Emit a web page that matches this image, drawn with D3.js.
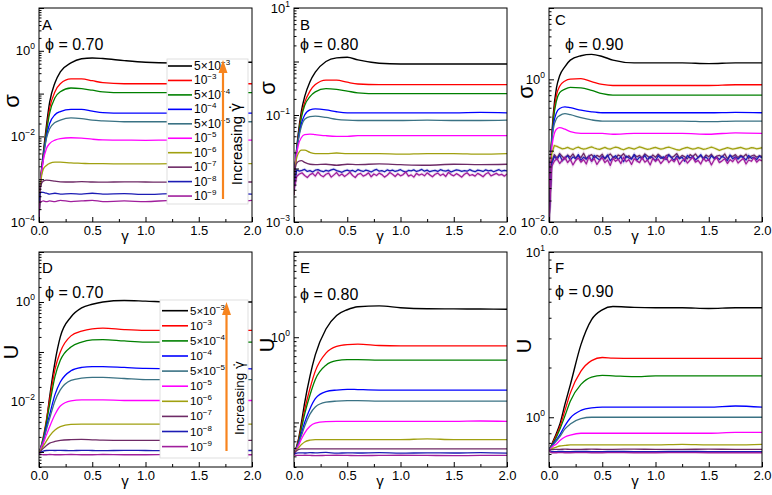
<!DOCTYPE html>
<html><head><meta charset="utf-8">
<script src="https://cdn.jsdelivr.net/npm/d3@7"></script>
<style>
body{margin:0;background:#fff}
svg{display:block}
text{font-family:"Liberation Sans",Arial,sans-serif;fill:#000}
</style>
</head><body>
<svg id="chart" width="772" height="495"></svg>
<script>
// ---------------- DATA ----------------
// smooth series are sampled on gammaGrid; noisy series are sampled evenly over gamma 0..2
const gammaGrid = [0, 0.005, 0.01, 0.02, 0.04, 0.07, 0.1, 0.15, 0.2, 0.3, 0.4, 0.5, 0.6, 0.8, 1.0, 1.25, 1.5, 1.75, 2.0];
const xTickValues = [0, 0.5, 1.0, 1.5, 2.0];
const xMinorTicks = [0.25, 0.75, 1.25, 1.75];
const rateLabels = ["5×10^−3","10^−3","5×10^−4","10^−4","5×10^−5","10^−5","10^−6","10^−7","10^−8","10^−9"];
const seriesColors = ["#000000","#ff0000","#008000","#0000ff","#3a7284","#ff00ff","#a0a010","#6e2a66","#1c1cb4","#a01e9c"];
const panelLetters = ["A","B","C","D","E","F"];
const phiLabels = ["ϕ = 0.70","ϕ = 0.80","ϕ = 0.90","ϕ = 0.70","ϕ = 0.80","ϕ = 0.90"];
const yAxisTitles = ["σ","σ","σ","U","U","U"];
const yDomains = [[1e-4,10],[1e-3,10],[1e-2,10],[5e-4,10],[0.03,10],[0.5,10]];
const yLabelExponents = [[0,-2,-4],[1,-1,-3],[0,-2],[0,-2],[0],[1,0]];

// Panel A: sigma, phi = 0.70
const sigmaPhi070 = [
 [1e-4,2.5e-4,5e-4,1.26e-3,4e-3,0.018,0.063,0.18,0.32,0.52,0.65,0.68,0.66,0.59,0.54,0.52,0.52,0.54,0.54],
 [1e-4,2.5e-4,5e-4,1.26e-3,3.5e-3,0.014,0.045,0.11,0.17,0.22,0.22,0.2,0.18,0.17,0.17,0.17,0.17,0.17,0.17],
 [1e-4,2.5e-4,5e-4,1.26e-3,3.5e-3,0.0126,0.035,0.08,0.11,0.135,0.13,0.12,0.11,0.105,0.105,0.105,0.105,0.105,0.105],
 [1e-4,2.5e-4,5e-4,1.1e-3,3.2e-3,0.01,0.02,0.032,0.038,0.043,0.043,0.039,0.036,0.035,0.035,0.035,0.035,0.035,0.035],
 [1e-4,2.5e-4,5e-4,1.1e-3,3e-3,0.009,0.015,0.021,0.024,0.027,0.026,0.024,0.023,0.022,0.022,0.022,0.022,0.022,0.022],
 [1e-4,2.5e-4,5e-4,1.1e-3,2.7e-3,0.0052,0.0068,0.0082,0.0089,0.0093,0.0091,0.0086,0.0083,0.0082,0.0081,0.0082,0.0081,0.0082,0.0082],
 [1e-4,2.5e-4,5e-4,1e-3,1.7e-3,2.1e-3,2.35e-3,2.5e-3,2.5e-3,2.4e-3,2.35e-3,2.3e-3,2.3e-3,2.28e-3,2.28e-3,2.3e-3,2.3e-3,2.3e-3,2.3e-3],
 [1e-4,2.5e-4,5e-4,7.5e-4,9e-4,9.5e-4,9.4e-4,9e-4,8.7e-4,8.6e-4,8.8e-4,8.6e-4,8.5e-4,8.7e-4,8.6e-4,8.5e-4,8.7e-4,8.6e-4,8.6e-4],
 [1e-4,3e-4,4.6e-4,5e-4,4.9e-4,4.7e-4,4.5e-4,4.7e-4,4.5e-4,4.6e-4,4.5e-4,4.7e-4,4.5e-4,4.6e-4,4.4e-4,4.6e-4,4.5e-4,4.6e-4,4.5e-4],
 [1e-4,2.8e-4,3.1e-4,3e-4,3.1e-4,3e-4,3.1e-4,3e-4,3.2e-4,3e-4,3.1e-4,3.2e-4,3e-4,3.1e-4,3e-4,3.2e-4,3.1e-4,2.9e-4,3.2e-4]
];

// Panel B: sigma, phi = 0.80
const sigmaPhi080 = [
 [0.0032,0.0063,0.01,0.018,0.045,0.12,0.22,0.42,0.63,1.0,1.17,1.2,1.07,0.93,0.9,0.9,0.9,0.9,0.9],
 [0.0032,0.0063,0.01,0.018,0.04,0.1,0.17,0.28,0.37,0.45,0.45,0.41,0.38,0.37,0.37,0.37,0.37,0.37,0.37],
 [0.0032,0.0063,0.01,0.018,0.038,0.09,0.15,0.22,0.27,0.31,0.3,0.28,0.26,0.25,0.25,0.25,0.25,0.25,0.25],
 [0.0032,0.0063,0.01,0.017,0.035,0.07,0.1,0.125,0.13,0.125,0.115,0.11,0.11,0.11,0.11,0.11,0.11,0.112,0.11],
 [0.0032,0.0063,0.01,0.017,0.033,0.062,0.083,0.093,0.095,0.09,0.083,0.08,0.079,0.079,0.079,0.08,0.079,0.079,0.08],
 [0.0032,0.0063,0.01,0.016,0.027,0.038,0.043,0.044,0.043,0.041,0.04,0.04,0.041,0.041,0.041,0.041,0.041,0.041,0.041],
 [0.0032,0.0063,0.009,0.014,0.019,0.022,0.022,0.02,0.019,0.019,0.0195,0.019,0.019,0.019,0.0185,0.019,0.019,0.0185,0.019],
 [0.0032,0.006,0.009,0.012,0.0135,0.014,0.013,0.012,0.0118,0.012,0.0115,0.012,0.0118,0.0122,0.0118,0.0115,0.012,0.0118,0.012],
 [0.004,
  0.0094,0.0089,0.0092,0.0096,0.0088,0.0091,0.0086,0.0093,0.0095,0.009,
  0.0087,0.0092,0.0089,0.0094,0.0097,0.0091,0.0088,0.0085,0.009,0.0093,
  0.0089,0.0092,0.0087,0.0095,0.0091,0.0088,0.0093,0.009,0.0086,0.0092,
  0.0096,0.0089,0.0091,0.0087,0.0094,0.009,0.0093,0.0088,0.0091,0.0095,
  0.0089,0.0086,0.0092,0.009,0.0094,0.0088,0.0091,0.0096,0.0089,0.0093,
  0.0087,0.009,0.0092,0.0088,0.0095,0.0091,0.0089,0.0093,0.0086,0.009,
  0.0094,0.0092,0.0088,0.0091,0.0089,0.0095,0.009,0.0087,0.0093,0.0091,
  0.0088,0.0094,0.009,0.0092,0.0087,0.0091,0.0095,0.0089,0.0092,0.009],
 [0.004,
  0.0071,0.0079,0.0083,0.0074,0.0068,0.0077,0.0081,0.0072,0.0086,0.0075,
  0.007,0.0078,0.0082,0.0069,0.0076,0.0084,0.0073,0.0079,0.0071,0.0077,
  0.0085,0.0074,0.0068,0.0078,0.0081,0.0072,0.0076,0.0083,0.007,0.0079,
  0.0074,0.0082,0.0077,0.0069,0.0075,0.0084,0.0078,0.0071,0.008,0.0073,
  0.0077,0.0086,0.0072,0.0076,0.0069,0.0081,0.0075,0.0079,0.0073,0.0083,
  0.0076,0.007,0.0078,0.0082,0.0074,0.0079,0.0071,0.0085,0.0077,0.0073,
  0.008,0.0075,0.0069,0.0078,0.0083,0.0074,0.0077,0.0072,0.0081,0.0076,
  0.007,0.0079,0.0084,0.0073,0.0077,0.0081,0.0075,0.0078,0.0072,0.0079]
];

// Panel C: sigma, phi = 0.90
const sigmaPhi090 = [
 [0.01,0.032,0.056,0.11,0.32,0.76,1.12,1.51,1.86,2.14,2.24,2.09,1.86,1.7,1.7,1.7,1.66,1.7,1.7],
 [0.01,0.032,0.056,0.107,0.28,0.6,0.8,0.95,1.01,1.02,0.93,0.85,0.82,0.82,0.82,0.82,0.82,0.84,0.84],
 [0.01,0.032,0.056,0.105,0.26,0.5,0.65,0.73,0.77,0.76,0.7,0.63,0.6,0.6,0.6,0.6,0.6,0.6,0.6],
 [0.01,0.032,0.056,0.1,0.22,0.34,0.39,0.41,0.4,0.37,0.35,0.34,0.34,0.34,0.34,0.34,0.34,0.345,0.34],
 [0.01,0.032,0.056,0.1,0.2,0.28,0.31,0.33,0.32,0.29,0.27,0.26,0.26,0.26,0.26,0.26,0.255,0.26,0.26],
 [0.01,0.032,0.056,0.09,0.15,0.2,0.21,0.2,0.185,0.175,0.175,0.175,0.17,0.175,0.175,0.175,0.17,0.178,0.175],
 [0.01,
  0.09,0.118,0.115,0.11,0.106,0.108,0.111,0.107,0.104,0.109,
  0.112,0.108,0.105,0.107,0.11,0.113,0.109,0.106,0.104,0.108,
  0.111,0.107,0.105,0.109,0.112,0.11,0.106,0.103,0.107,0.11,
  0.108,0.105,0.109,0.113,0.11,0.107,0.104,0.106,0.109,0.111,
  0.108,0.105,0.107,0.11,0.112,0.109,0.106,0.103,0.102,0.106,
  0.109,0.111,0.108,0.105,0.107,0.11,0.108,0.104,0.106,0.109,
  0.112,0.109,0.105,0.101,0.104,0.107,0.11,0.108,0.105,0.107,
  0.109,0.111,0.108,0.105,0.107,0.11,0.109,0.106,0.108,0.11],
 [0.01,
  0.07,0.088,0.079,0.091,0.083,0.076,0.087,0.081,0.09,0.078,
  0.085,0.08,0.092,0.077,0.084,0.088,0.079,0.086,0.082,0.089,
  0.076,0.084,0.09,0.081,0.078,0.087,0.083,0.091,0.08,0.085,
  0.077,0.088,0.082,0.086,0.079,0.09,0.084,0.078,0.087,0.081,
  0.089,0.083,0.076,0.085,0.088,0.08,0.084,0.091,0.079,0.086,
  0.082,0.077,0.088,0.083,0.09,0.08,0.085,0.078,0.087,0.082,
  0.089,0.079,0.084,0.086,0.081,0.09,0.077,0.085,0.083,0.088,
  0.08,0.086,0.082,0.089,0.078,0.084,0.087,0.081,0.085,0.083],
 [0.01,
  0.065,0.083,0.075,0.087,0.072,0.08,0.085,0.074,0.082,0.077,
  0.088,0.073,0.081,0.076,0.084,0.071,0.086,0.079,0.074,0.083,
  0.078,0.087,0.072,0.08,0.085,0.075,0.082,0.07,0.084,0.079,
  0.076,0.088,0.073,0.081,0.077,0.086,0.074,0.083,0.079,0.072,
  0.085,0.078,0.082,0.075,0.087,0.08,0.073,0.084,0.077,0.081,
  0.071,0.086,0.079,0.083,0.074,0.08,0.088,0.076,0.082,0.073,
  0.085,0.078,0.081,0.075,0.084,0.079,0.072,0.087,0.077,0.082,
  0.076,0.083,0.08,0.074,0.086,0.078,0.081,0.075,0.084,0.079],
 [0.01,
  0.06,0.071,0.078,0.066,0.074,0.081,0.068,0.076,0.063,0.073,
  0.079,0.069,0.075,0.065,0.082,0.071,0.077,0.064,0.073,0.08,
  0.068,0.074,0.062,0.078,0.071,0.076,0.066,0.081,0.07,0.075,
  0.064,0.077,0.072,0.068,0.08,0.069,0.074,0.063,0.078,0.071,
  0.076,0.066,0.073,0.082,0.068,0.075,0.07,0.079,0.064,0.072,
  0.077,0.067,0.074,0.081,0.069,0.073,0.065,0.078,0.071,0.076,
  0.063,0.074,0.08,0.068,0.072,0.077,0.066,0.075,0.07,0.079,
  0.067,0.073,0.078,0.065,0.074,0.071,0.08,0.069,0.075,0.072]
];

// Panel D: U, phi = 0.70
const energyPhi070 = [
 [9.3e-4,9.5e-4,1e-3,1.1e-3,1.6e-3,4e-3,0.0126,0.063,0.2,0.5,0.76,0.9,1.0,1.07,1.04,1.0,1.0,1.0,1.0],
 [9.3e-4,1e-3,1.1e-3,1.3e-3,2e-3,4.5e-3,0.011,0.045,0.1,0.21,0.26,0.29,0.3,0.28,0.27,0.27,0.27,0.27,0.27],
 [9.3e-4,1e-3,1.1e-3,1.3e-3,1.9e-3,4e-3,8.9e-3,0.032,0.068,0.126,0.158,0.174,0.177,0.166,0.158,0.158,0.158,0.158,0.158],
 [9.3e-4,1e-3,1.07e-3,1.26e-3,1.7e-3,3.2e-3,5.6e-3,0.014,0.025,0.042,0.049,0.051,0.051,0.049,0.047,0.046,0.046,0.047,0.046],
 [9.3e-4,1e-3,1.07e-3,1.26e-3,1.66e-3,2.8e-3,4.7e-3,0.0105,0.0174,0.027,0.03,0.031,0.031,0.0295,0.028,0.028,0.028,0.028,0.028],
 [9.3e-4,1e-3,1.05e-3,1.2e-3,1.5e-3,2.2e-3,3.2e-3,5.6e-3,8.3e-3,0.0105,0.011,0.011,0.011,0.0107,0.0107,0.0107,0.0107,0.0108,0.0107],
 [9.3e-4,1e-3,1.05e-3,1.12e-3,1.3e-3,1.66e-3,2.1e-3,2.75e-3,3.2e-3,3.55e-3,3.6e-3,3.6e-3,3.6e-3,3.6e-3,3.6e-3,3.6e-3,3.6e-3,3.6e-3,3.6e-3],
 [9.3e-4,9.6e-4,1e-3,1.06e-3,1.18e-3,1.35e-3,1.5e-3,1.62e-3,1.7e-3,1.76e-3,1.78e-3,1.75e-3,1.72e-3,1.7e-3,1.7e-3,1.72e-3,1.7e-3,1.7e-3,1.7e-3],
 [9.3e-4,9.5e-4,9.7e-4,1e-3,1.04e-3,1.07e-3,1.08e-3,1.07e-3,1.08e-3,1.06e-3,1.08e-3,1.07e-3,1.06e-3,1.08e-3,1.07e-3,1.06e-3,1.08e-3,1.07e-3,1.07e-3],
 [9.3e-4,9.1e-4,9e-4,8.9e-4,8.8e-4,8.8e-4,8.9e-4,8.8e-4,8.8e-4,8.9e-4,8.8e-4,8.8e-4,8.9e-4,8.8e-4,8.8e-4,8.9e-4,8.8e-4,8.8e-4,8.8e-4]
];

// Panel E: U, phi = 0.80
const energyPhi080 = [
 [0.043,0.044,0.046,0.05,0.062,0.1,0.17,0.35,0.62,1.25,1.8,2.1,2.28,2.33,2.22,2.16,2.15,2.14,2.13],
 [0.043,0.044,0.046,0.05,0.06,0.09,0.14,0.25,0.4,0.65,0.78,0.82,0.83,0.8,0.79,0.79,0.79,0.79,0.79],
 [0.043,0.044,0.046,0.05,0.058,0.085,0.125,0.21,0.32,0.47,0.53,0.545,0.545,0.54,0.54,0.54,0.54,0.54,0.54],
 [0.043,0.044,0.046,0.049,0.056,0.075,0.1,0.145,0.19,0.23,0.24,0.245,0.243,0.24,0.24,0.24,0.24,0.24,0.24],
 [0.043,0.044,0.046,0.049,0.055,0.07,0.09,0.125,0.152,0.173,0.178,0.18,0.18,0.178,0.178,0.178,0.178,0.178,0.178],
 [0.043,0.044,0.045,0.048,0.053,0.064,0.075,0.09,0.098,0.102,0.103,0.103,0.103,0.103,0.103,0.103,0.103,0.104,0.103],
 [0.043,0.044,0.045,0.047,0.05,0.055,0.059,0.062,0.063,0.063,0.063,0.063,0.063,0.063,0.063,0.064,0.063,0.063,0.063],
 [0.043,0.044,0.045,0.046,0.048,0.049,0.049,0.049,0.049,0.049,0.049,0.049,0.049,0.049,0.049,0.049,0.049,0.049,0.049],
 [0.043,0.043,0.0432,0.0435,0.044,0.044,0.0438,0.0442,0.044,0.0445,0.0436,0.044,0.0438,0.0442,0.0436,0.044,0.0438,0.0442,0.0436],
 [0.043,0.042,0.0415,0.041,0.041,0.041,0.0412,0.041,0.0408,0.041,0.0412,0.041,0.0408,0.041,0.0412,0.041,0.0408,0.041,0.041]
];

// Panel F: U, phi = 0.90
const energyPhi090 = [
 [0.63,0.64,0.65,0.67,0.72,0.8,0.9,1.2,1.57,2.75,3.9,4.47,4.68,4.62,4.6,4.6,4.55,4.6,4.6],
 [0.63,0.64,0.65,0.67,0.71,0.78,0.87,1.1,1.4,1.9,2.2,2.3,2.28,2.27,2.27,2.27,2.27,2.27,2.27],
 [0.63,0.64,0.65,0.67,0.7,0.76,0.84,1.02,1.25,1.58,1.75,1.79,1.78,1.76,1.78,1.78,1.78,1.78,1.78],
 [0.63,0.64,0.65,0.66,0.69,0.73,0.78,0.89,0.99,1.1,1.14,1.15,1.15,1.15,1.15,1.15,1.15,1.17,1.15],
 [0.63,0.64,0.65,0.66,0.68,0.72,0.76,0.85,0.91,0.98,1.0,1.0,1.0,1.0,1.0,1.0,1.0,1.0,1.0],
 [0.63,0.635,0.64,0.65,0.67,0.69,0.72,0.76,0.78,0.8,0.8,0.8,0.8,0.8,0.8,0.8,0.8,0.81,0.81],
 [0.63,0.632,0.635,0.64,0.65,0.66,0.67,0.675,0.68,0.68,0.68,0.68,0.68,0.68,0.68,0.685,0.68,0.68,0.685],
 [0.63,0.632,0.634,0.636,0.638,0.64,0.64,0.641,0.64,0.64,0.641,0.64,0.64,0.641,0.64,0.64,0.641,0.64,0.64],
 [0.63,0.628,0.625,0.622,0.62,0.62,0.621,0.62,0.62,0.621,0.62,0.62,0.621,0.62,0.62,0.621,0.62,0.62,0.62],
 [0.63,0.625,0.618,0.612,0.61,0.61,0.611,0.61,0.61,0.611,0.61,0.61,0.611,0.61,0.61,0.611,0.61,0.61,0.61]
];

const panelData = [sigmaPhi070, sigmaPhi080, sigmaPhi090, energyPhi070, energyPhi080, energyPhi090];

// ---------------- LAYOUT ----------------
const svg = d3.select("#chart");
const colX = [[39,252],[294,507],[549,762]];
const rowY = [[8,222],[252,467]];
const letterPos = [[42,30],[300,30],[555,25],[42,273],[300,273],[555,273]];
const phiPos = [[45,50],[300,50],[565,50],[45,298],[300,300],[555,297]];
const yTitlePos = [[11,101],[267,88],[525,92],[11,352],[267,345],[524,346]];
const orange = "#f7841e";

function supText(sel, label, baseSize, supSize, supDy) {
  const parts = label.split("^");
  sel.append("tspan").text(parts[0]).attr("font-size", baseSize);
  if (parts[1] !== undefined) {
    sel.append("tspan").text(parts[1]).attr("font-size", supSize).attr("dy", supDy);
  }
}

panelData.forEach((data, pi) => {
  const col = pi % 3, row = Math.floor(pi / 3);
  const [x0, x1] = colX[col];
  const [y0, y1] = rowY[row];
  const dom = yDomains[pi];
  const x = d3.scaleLinear().domain([0, 2]).range([x0, x1]);
  const y = d3.scaleLog().domain(dom).range([y1, y0]);
  const g = svg.append("g");

  const clipId = "clip" + pi;
  svg.append("clipPath").attr("id", clipId)
    .append("rect").attr("x", x0).attr("y", y0).attr("width", x1 - x0).attr("height", y1 - y0);

  const lines = g.append("g").attr("clip-path", `url(#${clipId})`);
  data.forEach((vals, si) => {
    const noisy = vals.length !== gammaGrid.length;
    const n = vals.length;
    const grid = noisy ? vals.map((_, j) => 2 * j / (n - 1)) : gammaGrid;
    const pts = grid.map((gm, j) => [gm, vals[j]]);
    const line = d3.line()
      .x(d => x(d[0]))
      .y(d => y(Math.max(d[1], dom[0] * 0.5)))
      .curve(noisy ? d3.curveLinear : d3.curveMonotoneX);
    if (noisy) {
      lines.append("path").attr("d", line(pts)).attr("fill", "none")
        .attr("stroke", seriesColors[si]).attr("stroke-opacity", 0.15).attr("stroke-width", 3);
    }
    lines.append("path").attr("d", line(pts)).attr("fill", "none")
      .attr("stroke", seriesColors[si]).attr("stroke-width", si === 0 ? 1.4 : 1.3)
      .attr("stroke-linejoin", "round");
  });

  // x axis ticks (inward)
  const xAxis = g.append("g").attr("transform", `translate(0,${y1})`)
    .call(d3.axisBottom(x).tickValues(xTickValues).tickSize(-5).tickPadding(4).tickFormat(d3.format(".1f")));
  xAxis.select(".domain").remove();
  xAxis.selectAll("text").attr("font-size", 13).attr("font-family", '"Liberation Sans",Arial,sans-serif');
  const xMinor = g.append("g").attr("transform", `translate(0,${y1})`)
    .call(d3.axisBottom(x).tickValues(xMinorTicks).tickSize(-3).tickFormat(""));
  xMinor.select(".domain").remove();

  // y axis ticks (inward, log)
  const lo = Math.floor(Math.log10(dom[0])), hi = Math.ceil(Math.log10(dom[1]));
  const majors = [], minors = [];
  for (let e = lo; e <= hi; e++) {
    const v = Math.pow(10, e);
    if (v >= dom[0] * 0.999 && v <= dom[1] * 1.001) majors.push(v);
    for (let m = 2; m <= 9; m++) {
      const mv = m * v;
      if (mv >= dom[0] && mv <= dom[1]) minors.push(mv);
    }
  }
  const yAxis = g.append("g").attr("transform", `translate(${x0},0)`)
    .call(d3.axisLeft(y).tickValues(majors).tickSize(-5).tickFormat(""));
  yAxis.select(".domain").remove();
  const yMinor = g.append("g").attr("transform", `translate(${x0},0)`)
    .call(d3.axisLeft(y).tickValues(minors).tickSize(-2.5).tickFormat(""));
  yMinor.select(".domain").remove();

  yLabelExponents[pi].forEach(ex => {
    const t = g.append("text").attr("x", x0 - 4).attr("y", y(Math.pow(10, ex)) + 4.5)
      .attr("text-anchor", "end");
    supText(t, "10^" + (ex < 0 ? "−" + (-ex) : ex), 13, 8.5, -6);
  });

  // frame
  g.append("rect").attr("x", x0).attr("y", y0).attr("width", x1 - x0).attr("height", y1 - y0)
    .attr("fill", "none").attr("stroke", "#000").attr("stroke-width", 1);

  // titles
  g.append("text").attr("x", letterPos[pi][0]).attr("y", letterPos[pi][1])
    .attr("font-size", 15).text(panelLetters[pi]);
  g.append("text").attr("x", phiPos[pi][0]).attr("y", phiPos[pi][1])
    .attr("font-size", 16).text(phiLabels[pi]);
  g.append("text").attr("x", x0 + 86).attr("y", y1 + 19)
    .attr("font-size", 15).attr("text-anchor", "middle").text("γ");
  g.append("text")
    .attr("transform", `translate(${yTitlePos[pi][0]},${yTitlePos[pi][1]}) rotate(-90)`)
    .attr("text-anchor", "middle").attr("dominant-baseline", "central")
    .attr("font-size", pi < 3 ? 22 : 20).text(yAxisTitles[pi]);

  // legends (panels A and D)
  if (pi === 0 || pi === 3) {
    const L = pi === 0
      ? {bx: 167, by: 59, bw: 81, bh: 145, l0: 168, l1: 192, tx: 194, r0: 66, dr: 14.45, fs: 12,
         ax: 223, ay0: 199, ay1: 60, tcx: 236, tcy: 144, tfs: 15}
      : {bx: 160, by: 300, bw: 88, bh: 158, l0: 162, l1: 188, tx: 190, r0: 310.7, dr: 15.1, fs: 11.5,
         ax: 226.5, ay0: 451, ay1: 302, tcx: 238.5, tcy: 398, tfs: 13.5};
    const lg = g.append("g");
    lg.append("rect").attr("x", L.bx).attr("y", L.by).attr("width", L.bw).attr("height", L.bh)
      .attr("fill", "#fff").attr("stroke", "#d8d8d8").attr("stroke-width", 0.8);
    rateLabels.forEach((lab, i) => {
      const yy = L.r0 + i * L.dr;
      lg.append("line").attr("x1", L.l0).attr("x2", L.l1).attr("y1", yy).attr("y2", yy)
        .attr("stroke", seriesColors[i]).attr("stroke-width", 1.6);
      const t = lg.append("text").attr("x", L.tx).attr("y", yy + 4);
      supText(t, lab, L.fs, 8, -5);
    });
    // arrow
    lg.append("line").attr("x1", L.ax).attr("x2", L.ax).attr("y1", L.ay0).attr("y2", L.ay1 + 10)
      .attr("stroke", orange).attr("stroke-width", 2.2);
    lg.append("path")
      .attr("d", `M${L.ax},${L.ay1} L${L.ax - 4.5},${L.ay1 + 13} L${L.ax + 4.5},${L.ay1 + 13} Z`)
      .attr("fill", orange);
    const it = lg.append("text")
      .attr("transform", `translate(${L.tcx},${L.tcy}) rotate(-90)`)
      .attr("text-anchor", "middle").attr("dominant-baseline", "central")
      .attr("font-size", L.tfs);
    it.append("tspan").text("Increasing ");
    it.append("tspan").attr("font-family", '"DejaVu Sans",sans-serif').text("γ̇");
  }
});
</script>
</body></html>
